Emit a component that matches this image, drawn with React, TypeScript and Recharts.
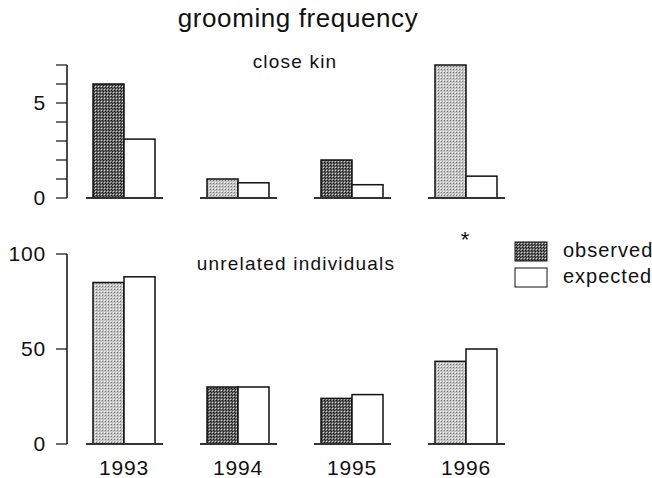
import { BarChart, Bar, XAxis, YAxis, Cell } from "recharts";

const years = ["1993", "1994", "1995", "1996"];

// close kin panel
const kinObserved = [6, 1, 2, 7];
const kinExpected = [3.1, 0.8, 0.7, 1.15];
const kinShade = ["dark", "light", "dark", "light"];
const kinTicks = [0, 1, 2, 3, 4, 5, 6, 7];

// unrelated individuals panel
const unrelObserved = [85, 30, 24, 43.5];
const unrelExpected = [88, 30, 26, 50];
const unrelShade = ["light", "dark", "dark", "light"];
const unrelTicks = [0, 50, 100];

const kinData = years.map((year, i) => ({
    year,
    observed: kinObserved[i],
    expected: kinExpected[i],
}));

const unrelData = years.map((year, i) => ({
    year,
    observed: unrelObserved[i],
    expected: unrelExpected[i],
}));

const FONT = "'Liberation Sans', Arial, sans-serif";
const INK = "#111";

const shadeFill = (s: string) => (s === "dark" ? "url(#dotsDark)" : "url(#dotsLight)");

const ObservedShape = (props: any) => {
    const { x, y, width, height, fill } = props;
    return <rect x={x} y={y} width={width} height={height} fill={fill} stroke={INK} strokeWidth={1.5} />;
};

// expected bar also draws the short baseline under its group
const ExpectedShape = (props: any) => {
    const { x, y, width, height } = props;
    const base = y + height;
    return (
        <g>
            <rect x={x} y={y} width={width} height={height} fill="#fff" stroke={INK} strokeWidth={1.5} />
            <line x1={x - width - 7} x2={x + width + 8} y1={base} y2={base} stroke="#333" strokeWidth={2} />
        </g>
    );
};

const tickStyle = { fontSize: 21, fill: INK, fontFamily: FONT, letterSpacing: 0.8 };

export default function App() {
    return (
        <div style={{ position: "absolute", left: 0, top: 0, width: 652, height: 478, background: "#fff", fontFamily: FONT }}>
            <svg width={0} height={0} style={{ position: "absolute" }}>
                <defs>
                    <pattern id="dotsDark" width={3} height={3} patternUnits="userSpaceOnUse">
                        <rect width={3} height={3} fill="#6a6a6a" />
                        <rect width={1} height={1} fill="#111" />
                        <rect x={1} y={1} width={1} height={1} fill="#222" />
                        <rect x={2} y={2} width={1} height={1} fill="#d0d0d0" />
                    </pattern>
                    <pattern id="dotsLight" width={3} height={3} patternUnits="userSpaceOnUse">
                        <rect width={3} height={3} fill="#c4c4c4" />
                        <rect width={1} height={1} fill="#7a7a7a" />
                        <rect x={2} y={2} width={1} height={1} fill="#fafafa" />
                    </pattern>
                </defs>
            </svg>

            {/* close kin */}
            <div style={{ position: "absolute", left: 0, top: 0 }}>
                <BarChart
                    width={652}
                    height={220}
                    data={kinData}
                    margin={{ top: 65, right: 129, bottom: 22, left: 0 }}
                    barSize={31}
                    barGap={0}
                >
                    <XAxis dataKey="year" hide />
                    <YAxis
                        width={67}
                        domain={[0, 7]}
                        ticks={kinTicks}
                        interval={0}
                        tickFormatter={(v: number) => (v === 0 || v === 5 ? String(v) : "")}
                        tickSize={11}
                        tickMargin={10}
                        tick={tickStyle}
                        axisLine={{ stroke: INK, strokeWidth: 1.5 }}
                        tickLine={{ stroke: INK, strokeWidth: 1.2 }}
                    />
                    <Bar dataKey="observed" shape={ObservedShape} isAnimationActive={false}>
                        {kinShade.map((s, i) => (
                            <Cell key={i} fill={shadeFill(s)} />
                        ))}
                    </Bar>
                    <Bar dataKey="expected" shape={ExpectedShape} isAnimationActive={false} />
                    <text x={298} y={27} textAnchor="middle" fontSize={26} letterSpacing={0.6} fill={INK} fontFamily={FONT}>
                        grooming frequency
                    </text>
                    <text x={295} y={68} textAnchor="middle" fontSize={19} letterSpacing={1.2} fill={INK} fontFamily={FONT}>
                        close kin
                    </text>
                </BarChart>
            </div>

            {/* unrelated individuals */}
            <div style={{ position: "absolute", left: 0, top: 220 }}>
                <BarChart
                    width={652}
                    height={258}
                    data={unrelData}
                    margin={{ top: 34, right: 129, bottom: 0, left: 0 }}
                    barSize={31}
                    barGap={0}
                >
                    <XAxis
                        dataKey="year"
                        height={34}
                        axisLine={false}
                        tickLine={false}
                        tickSize={6}
                        tickMargin={10}
                        tick={tickStyle}
                    />
                    <YAxis
                        width={67}
                        domain={[0, 100]}
                        ticks={unrelTicks}
                        interval={0}
                        tickSize={11}
                        tickMargin={10}
                        tick={tickStyle}
                        axisLine={{ stroke: INK, strokeWidth: 1.5 }}
                        tickLine={{ stroke: INK, strokeWidth: 1.2 }}
                    />
                    <Bar dataKey="observed" shape={ObservedShape} isAnimationActive={false}>
                        {unrelShade.map((s, i) => (
                            <Cell key={i} fill={shadeFill(s)} />
                        ))}
                    </Bar>
                    <Bar dataKey="expected" shape={ExpectedShape} isAnimationActive={false} />
                    <text x={296} y={50} textAnchor="middle" fontSize={19} letterSpacing={1.2} fill={INK} fontFamily={FONT}>
                        unrelated individuals
                    </text>
                    <text x={465} y={27} textAnchor="middle" fontSize={22} fill={INK} fontFamily={FONT}>
                        *
                    </text>
                    <g>
                        <rect x={515} y={22} width={32} height={19} fill="url(#dotsDark)" stroke={INK} strokeWidth={1} />
                        <text x={563} y={37} fontSize={20} letterSpacing={1} fill={INK} fontFamily={FONT}>
                            observed
                        </text>
                        <rect x={515} y={48} width={32} height={19} fill="#fff" stroke={INK} strokeWidth={1} />
                        <text x={563} y={63} fontSize={20} letterSpacing={1} fill={INK} fontFamily={FONT}>
                            expected
                        </text>
                    </g>
                </BarChart>
            </div>
        </div>
    );
}
